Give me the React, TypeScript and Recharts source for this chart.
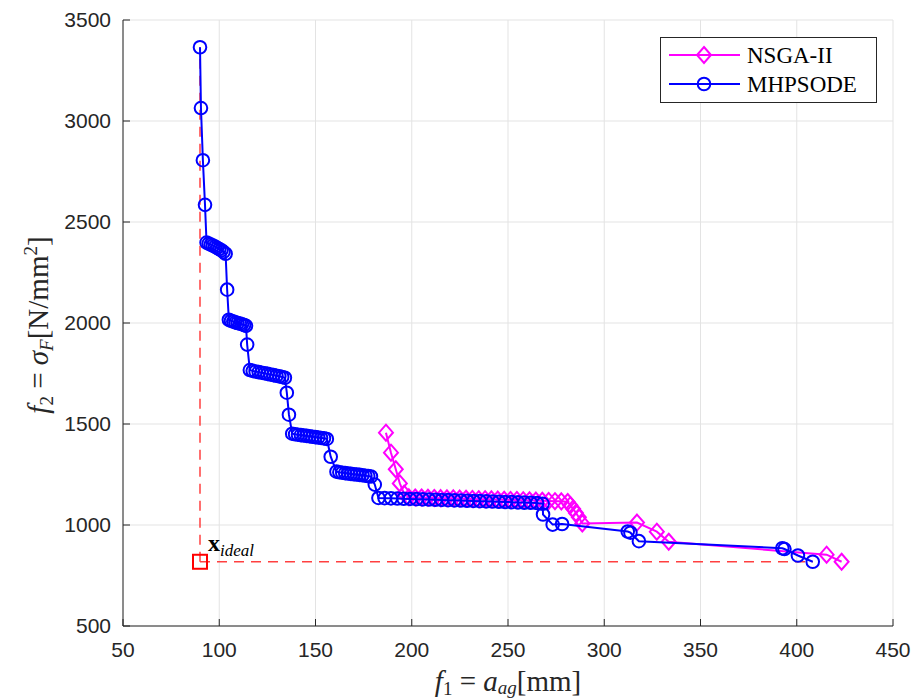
import {
  ScatterChart,
  Scatter,
  XAxis,
  YAxis,
  CartesianGrid,
  ReferenceLine,
  ReferenceDot,
  Legend,
} from 'recharts';

// Pareto fronts: [f1 (mm), f2 (N/mm^2)]
const nsga2: [number, number][] = [
  [186.6, 1457], [189.2, 1358], [191.7, 1276], [193.8, 1206], [196.0, 1155],
  [198.5, 1137], [201.8, 1136], [205.1, 1136], [208.4, 1135], [211.7, 1134],
  [215.0, 1133], [218.3, 1132], [221.6, 1132], [224.9, 1131], [228.2, 1130],
  [231.5, 1129], [234.8, 1128], [238.1, 1128], [241.4, 1127], [244.7, 1126],
  [248.0, 1125], [251.3, 1124], [254.6, 1124], [257.9, 1123], [261.2, 1122],
  [264.5, 1121], [267.8, 1120], [271.1, 1119], [274.4, 1118], [277.7, 1117],
  [281.0, 1114], [282.4, 1098], [283.8, 1080], [285.3, 1060], [286.8, 1038],
  [288.6, 1008], [317.0, 1012], [327.3, 967], [333.5, 917], [415.5, 853],
  [423.3, 818],
];

const mhpsode: [number, number][] = [
  [90.0, 3365], [90.5, 3064], [91.5, 2806], [92.6, 2585],
  [93.4, 2398], [94.5, 2393], [95.6, 2388], [96.7, 2383], [97.8, 2378],
  [98.9, 2372], [100.0, 2366], [101.1, 2360], [102.2, 2352], [103.3, 2343],
  [104.1, 2165],
  [105.0, 2016], [106.1, 2011], [107.3, 2007], [108.4, 2003], [109.5, 2000],
  [110.7, 1997], [111.8, 1994], [112.9, 1990], [113.9, 1986],
  [114.5, 1893],
  [115.9, 1767], [117.4, 1763], [118.9, 1760], [120.5, 1757], [122.0, 1754],
  [123.6, 1751], [125.1, 1748], [126.6, 1745], [128.2, 1742], [129.7, 1739],
  [131.2, 1736], [132.7, 1733], [134.1, 1729],
  [135.1, 1655], [136.2, 1546],
  [137.9, 1452], [139.4, 1449], [140.9, 1447], [142.4, 1445], [143.9, 1443],
  [145.4, 1441], [146.9, 1439], [148.4, 1437], [149.9, 1435], [151.4, 1433],
  [152.9, 1431], [154.4, 1429], [155.9, 1426],
  [157.9, 1338],
  [160.9, 1264], [162.4, 1261], [163.9, 1259], [165.4, 1257], [166.9, 1255],
  [168.4, 1253], [169.9, 1251], [171.4, 1250], [172.9, 1248], [174.4, 1246],
  [175.9, 1244], [177.4, 1242], [178.8, 1240],
  [180.8, 1200],
  [182.7, 1134], [185.9, 1133], [189.2, 1132], [192.5, 1131], [195.8, 1130],
  [199.1, 1129], [202.4, 1128], [205.7, 1127], [209.0, 1126], [212.3, 1125],
  [215.6, 1124], [218.9, 1123], [222.2, 1122], [225.5, 1121], [228.8, 1120],
  [232.1, 1119], [235.4, 1118], [238.7, 1117], [242.0, 1116], [245.3, 1115],
  [248.6, 1114], [251.9, 1113], [255.2, 1112], [258.5, 1111], [261.8, 1110],
  [265.1, 1109], [268.0, 1105],
  [268.2, 1052], [273.2, 1002], [278.1, 1005],
  [312.2, 968], [313.6, 962], [318.0, 920],
  [392.5, 885], [393.6, 881], [400.6, 849], [408.3, 818],
];

const xTicks = [50, 100, 150, 200, 250, 300, 350, 400, 450];
const yTicks = [500, 1000, 1500, 2000, 2500, 3000, 3500];

const toPts = (arr: [number, number][]) => arr.map(([f1, f2]) => ({ f1, f2 }));
const nsgaData = toPts(nsga2);
const mhpData = toPts(mhpsode);

// ideal point = component-wise minimum of the MHPSODE front
const minF1 = mhpsode.reduce((a, b) => (b[0] < a[0] ? b : a));
const minF2 = mhpsode.reduce((a, b) => (b[1] < a[1] ? b : a));
const ideal = { f1: minF1[0], f2: minF2[1] };

const AX = '#262626';
const RED = '#ff4040';
const tickStyle = { fill: AX, fontSize: 21, fontFamily: 'Liberation Sans, Arial, sans-serif' };

const Circle = (p: any) => (
  <circle cx={p.cx} cy={p.cy} r={6.3} fill="none" stroke="#0000ff" strokeWidth={2} />
);
const Diamond = (p: any) => (
  <polygon
    points={`${p.cx},${p.cy - 8} ${p.cx + 7},${p.cy} ${p.cx},${p.cy + 8} ${p.cx - 7},${p.cy}`}
    fill="none"
    stroke="#ff00ff"
    strokeWidth={2}
  />
);

const IdealMark = (p: any) => (
  <g>
    <rect x={p.cx - 7} y={p.cy - 7} width={14} height={14} fill="none" stroke="#ff0000" strokeWidth={2} />
    <text x={p.cx + 8} y={p.cy - 11} fontFamily="Liberation Serif, serif" fontSize={24} fill="#000">
      <tspan fontWeight="bold">x</tspan>
      <tspan fontStyle="italic" fontSize={17} dy={5}>ideal</tspan>
    </text>
  </g>
);

const LegendBox = () => (
  <svg width={217} height={66} style={{ display: 'block' }}>
    <rect x={0.5} y={0.5} width={216} height={65} fill="#fff" stroke={AX} strokeWidth={1} />
    <line x1={9} x2={80} y1={18} y2={18} stroke="#ff00ff" strokeWidth={2} />
    <Diamond cx={44} cy={18} />
    <text x={87} y={26} fontFamily="Liberation Serif, serif" fontSize={23} fill="#000">NSGA-II</text>
    <line x1={9} x2={80} y1={47} y2={47} stroke="#0000ff" strokeWidth={2} />
    <Circle cx={44} cy={47} />
    <text x={87} y={55} fontFamily="Liberation Serif, serif" fontSize={23} fill="#000">MHPSODE</text>
  </svg>
);

const XLabel = () => (
  <text x={508} y={691} textAnchor="middle" fontFamily="Liberation Serif, serif" fontSize={29} fill={AX}>
    <tspan fontStyle="italic">f</tspan>
    <tspan fontSize={19} dy={4}>1</tspan>
    <tspan dy={-4}> = </tspan>
    <tspan fontStyle="italic">a</tspan>
    <tspan fontStyle="italic" fontSize={19} dy={3}>ag</tspan>
    <tspan dy={-3}>[mm]</tspan>
  </text>
);

const YLabel = () => (
  <text
    x={48}
    y={325}
    transform="rotate(-90 48 325)"
    textAnchor="middle"
    fontFamily="Liberation Serif, serif"
    fontSize={29}
    fill={AX}
  >
    <tspan fontStyle="italic">f</tspan>
    <tspan fontSize={19} dy={5}>2</tspan>
    <tspan dy={-5}> = </tspan>
    <tspan fontStyle="italic">σ</tspan>
    <tspan fontStyle="italic" fontSize={19} dy={5}>F</tspan>
    <tspan dy={-5}>[N/mm</tspan>
    <tspan fontSize={19} dy={-11}>2</tspan>
    <tspan dy={11}>]</tspan>
  </text>
);

export default function App() {
  return (
    <div style={{ position: 'absolute', left: 0, top: 0, background: '#fff' }}>
      <ScatterChart width={920} height={699} margin={{ top: 20, right: 27, bottom: 33, left: 53 }}>
        <CartesianGrid xAxisId="m" yAxisId="m" stroke="#e3e3e3" horizontalValues={yTicks} verticalValues={xTicks} />
        <XAxis
          xAxisId="m"
          dataKey="f1"
          type="number"
          domain={[50, 450]}
          ticks={xTicks}
          allowDataOverflow
          height={40}
          tickSize={-7}
          tickMargin={23}
          stroke={AX}
          tick={tickStyle}
          label={() => <XLabel />}
        />
        <XAxis
          xAxisId="t"
          orientation="top"
          type="number"
          domain={[50, 450]}
          ticks={xTicks}
          allowDataOverflow
          height={0}
          tickSize={-7}
          stroke={AX}
          tick={false}
        />
        <YAxis
          yAxisId="m"
          dataKey="f2"
          type="number"
          domain={[500, 3500]}
          ticks={yTicks}
          allowDataOverflow
          width={70}
          tickSize={-7}
          tickMargin={19}
          stroke={AX}
          tick={tickStyle}
          label={() => <YLabel />}
        />
        <YAxis
          yAxisId="r"
          orientation="right"
          type="number"
          domain={[500, 3500]}
          ticks={yTicks}
          allowDataOverflow
          width={0}
          tickSize={-7}
          stroke={AX}
          tick={false}
        />
        <ReferenceLine
          xAxisId="m"
          yAxisId="m"
          segment={[{ x: ideal.f1, y: ideal.f2 }, { x: minF1[0], y: minF1[1] }]}
          stroke={RED}
          strokeWidth={1.5}
          strokeDasharray="10 7"
        />
        <ReferenceLine
          xAxisId="m"
          yAxisId="m"
          segment={[{ x: ideal.f1, y: ideal.f2 }, { x: minF2[0], y: minF2[1] }]}
          stroke={RED}
          strokeWidth={1.5}
          strokeDasharray="10 7"
        />
        <Scatter
          name="NSGA-II"
          xAxisId="m"
          yAxisId="m"
          data={nsgaData}
          line={{ stroke: '#ff00ff', strokeWidth: 2 }}
          lineType="joint"
          shape={Diamond}
          isAnimationActive={false}
        />
        <Scatter
          name="MHPSODE"
          xAxisId="m"
          yAxisId="m"
          data={mhpData}
          line={{ stroke: '#0000ff', strokeWidth: 2 }}
          lineType="joint"
          shape={Circle}
          isAnimationActive={false}
        />
        <ReferenceDot
          xAxisId="m"
          yAxisId="m"
          x={ideal.f1}
          y={ideal.f2}
          r={7}
          shape={IdealMark}
        />
        <Legend
          layout="vertical"
          align="center"
          verticalAlign="middle"
          content={() => <LegendBox />}
          wrapperStyle={{ left: 660, top: 37, width: 217, height: 66 }}
        />
      </ScatterChart>
    </div>
  );
}
